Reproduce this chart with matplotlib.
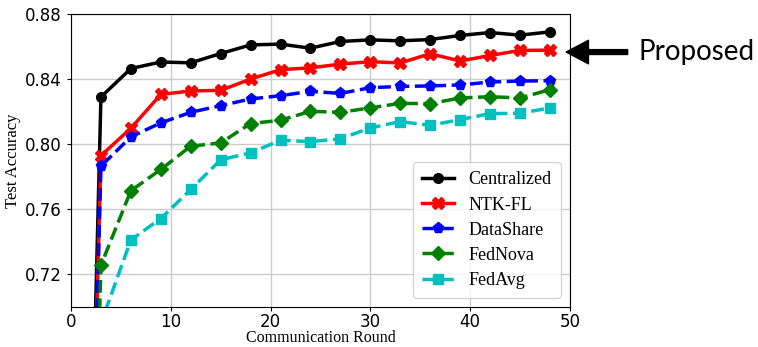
import matplotlib.pyplot as plt

# rounds (round 0 = random init, clipped below the y range)
rounds = [0, 3, 6, 9, 12, 15, 18, 21, 24, 27, 30, 33, 36, 39, 42, 45, 48]

centralized = [0.10, 0.829, 0.8465, 0.8505, 0.850, 0.8557, 0.861, 0.8615, 0.859,
               0.8631, 0.8641, 0.8635, 0.8643, 0.8668, 0.8686, 0.867, 0.869]
ntk_fl = [0.10, 0.793, 0.8098, 0.8306, 0.8327, 0.8331, 0.840, 0.8458, 0.8469,
          0.8492, 0.8507, 0.8499, 0.8556, 0.8511, 0.8545, 0.8576, 0.8578]
datashare = [0.10, 0.7865, 0.8045, 0.8131, 0.8196, 0.8237, 0.8278, 0.8298, 0.8325,
             0.8312, 0.8347, 0.8355, 0.8358, 0.8364, 0.8382, 0.8388, 0.839]
fednova = [0.10, 0.7257, 0.7714, 0.7845, 0.7988, 0.8008, 0.8127, 0.8147, 0.8202,
           0.8196, 0.8223, 0.8251, 0.8249, 0.8284, 0.8292, 0.8284, 0.8335]
fedavg = [0.10, 0.690, 0.7412, 0.7543, 0.7722, 0.7904, 0.7947, 0.8024, 0.8016,
          0.8033, 0.810, 0.8139, 0.8116, 0.8151, 0.8188, 0.819, 0.8223]

fig = plt.figure(figsize=(7.58, 3.47), dpi=100)
ax = fig.add_axes([0.0937, 0.1153, 0.658, 0.8444])

lw = 2.5
ax.plot(rounds, centralized, color='black', marker='o', ms=7, lw=lw, label='Centralized')
ax.plot(rounds, ntk_fl, color='red', marker='X', ms=8, lw=lw, label='NTK-FL')
ax.plot(rounds, datashare, color='blue', marker='p', ms=8, lw=lw, ls='--', label='DataShare')
ax.plot(rounds, fednova, color='green', marker='D', ms=7.5, lw=lw, ls='--', label='FedNova')
ax.plot(rounds, fedavg, color='c', marker='s', ms=7, lw=lw, ls='--', label='FedAvg')

ax.set_xlim(0, 50)
ax.set_ylim(0.70, 0.88)
ax.set_yticks([0.72, 0.76, 0.80, 0.84, 0.88])
ax.set_xticks([0, 10, 20, 30, 40, 50])
ax.tick_params(labelsize=12, length=3)
ax.tick_params(axis='x', pad=1.5)
ax.grid(True, color='#cccccc', lw=1)

ax.set_xlabel('Communication Round', fontsize=11.5, family='Liberation Serif', labelpad=-1)
ax.set_ylabel('Test Accuracy', fontsize=12, family='Liberation Serif', labelpad=3)

ax.legend(loc='lower right', prop={'family': 'Liberation Serif', 'size': 13},
          handlelength=1.8, labelspacing=0.45, borderpad=0.5)

# arrow pointing to the proposed curve
fig.text(0.843, 0.85, 'Proposed', fontsize=20, family='Lato', va='center', ha='left')
ax.annotate('', xy=(0.747, 0.85), xycoords='figure fraction',
            xytext=(0.828, 0.85), textcoords='figure fraction',
            arrowprops=dict(facecolor='black', edgecolor='black', width=3.5,
                            headwidth=17, headlength=16))

plt.savefig('out.png', dpi=100)
